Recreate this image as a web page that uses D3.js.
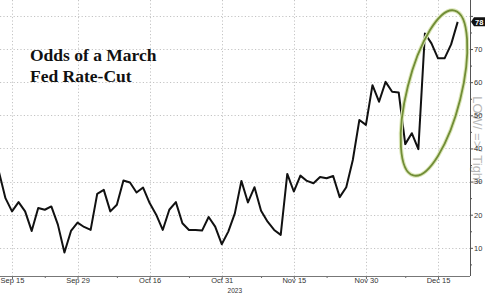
<!DOCTYPE html>
<html><head><meta charset="utf-8">
<script src="https://cdn.jsdelivr.net/npm/d3@7/dist/d3.min.js"></script>
<style>body{margin:0;background:#fff;}svg{display:block;}</style>
</head><body>
<script>
// ---- data ----
const startDate = "2023-09-13";
const values = [33.0,25.0,21.0,23.8,21.0,15.1,22.0,21.5,22.5,17.0,
  8.6,15.1,17.6,16.3,15.4,26.3,27.5,21.0,23.0,30.3,
  29.7,26.7,28.2,23.5,20.0,15.4,21.5,23.8,17.4,15.4,
  15.4,15.2,19.3,16.4,11.1,14.9,20.4,30.2,23.7,28.3,
  21.2,17.9,15.4,13.9,32.3,27.0,31.8,30.2,29.5,31.4,
  31.0,31.7,25.3,28.3,36.5,48.6,47.1,59.1,54.1,60.1,
  57.1,56.9,41.3,44.6,39.8,74.7,71.7,67.2,67.2,71.4,78.2];
const tickDates = ["2023-09-15","2023-09-29","2023-10-16","2023-10-31","2023-11-15","2023-11-30","2023-12-15"];
const tickLabels = ["Sep 15","Sep 29","Oct 16","Oct 31","Nov 15","Nov 30","Dec 15"];
const minorTickDates = ["2023-09-22","2023-10-09","2023-10-24","2023-11-08","2023-11-22","2023-12-08"];
const yTicks = [10,20,30,40,50,60,70,80];
const yTickLabels = ["10","20","30","40","50","60","70",""];
const yMinorTicks = [5,15,25,35,45,55,65,75];
const yearLabel = "2023";
const titleLines = ["Odds of a March","Fed Rate-Cut"];
const lastLabel = "78";
const sideText = "LOW/ =>/ Tight";

// business-day calendar
const fmt = d3.utcFormat("%Y-%m-%d");
const days = d3.utcDay.range(new Date(startDate+"T00:00:00Z"), new Date("2023-12-27T00:00:00Z"))
  .filter(d => d.getUTCDay() !== 0 && d.getUTCDay() !== 6).map(fmt);
const idx = s => days.indexOf(s);

const W = 485, H = 293;
const svg = d3.select("body").append("svg").attr("width", W).attr("height", H);

const x = d3.scaleLinear().domain([0, 72]).range([-1.1, -1.1 + 72*6.554]);
const y = d3.scaleLinear().domain([1.5, 84.8]).range([276, 0]);
const plotR = 470, plotB = 276;

// grid
const grid = svg.append("g").attr("stroke", "#c4c4c4").attr("stroke-width", 1).attr("stroke-dasharray", "1.2,2.2");
grid.selectAll("line.h").data(yTicks).join("line").attr("class","h")
  .attr("x1", 0).attr("x2", plotR).attr("y1", d => Math.round(y(d))+0.5).attr("y2", d => Math.round(y(d))+0.5);
grid.selectAll("line.v").data(tickDates).join("line").attr("class","v")
  .attr("x1", d => Math.round(x(idx(d)))+0.5).attr("x2", d => Math.round(x(idx(d)))+0.5)
  .attr("y1", 0).attr("y2", plotB);

// side watermark text
svg.append("text").attr("transform", `translate(473,140) rotate(90)`)
  .attr("text-anchor","middle").attr("font-family","Liberation Sans, Arial, sans-serif")
  .attr("font-size", 13).attr("fill", "#b8b8b8").text(sideText);

// axes
const xAxis = d3.axisBottom(x).tickValues(tickDates.map(idx))
  .tickFormat((d,i) => tickLabels[i]).tickSize(3).tickPadding(-1);
const gx = svg.append("g").attr("transform", `translate(0,${plotB})`).call(xAxis);
gx.select(".domain").remove();
gx.selectAll("text").attr("font-family","Liberation Sans, Arial, sans-serif").attr("font-size", 7.5).attr("fill","#333");
gx.selectAll("line").attr("stroke","#666");
const xMinor = d3.axisBottom(x).tickValues(minorTickDates.map(idx)).tickFormat("").tickSize(2);
const gxm = svg.append("g").attr("transform", `translate(0,${plotB})`).call(xMinor);
gxm.select(".domain").remove();
gxm.selectAll("line").attr("stroke","#666");

svg.append("line").attr("x1",0).attr("x2",plotR).attr("y1",plotB+0.5).attr("y2",plotB+0.5).attr("stroke","#777");
svg.append("line").attr("x1",plotR+0.5).attr("x2",plotR+0.5).attr("y1",0).attr("y2",plotB).attr("stroke","#555");

const yAxis = d3.axisRight(y).tickValues(yTicks).tickSize(3).tickPadding(1).tickFormat((d,i) => yTickLabels[i]);
const gy = svg.append("g").attr("transform", `translate(${plotR},0)`).call(yAxis);
gy.select(".domain").remove();
gy.selectAll("text").attr("font-family","Liberation Sans, Arial, sans-serif").attr("font-size", 7.5).attr("fill","#333");
gy.selectAll("line").attr("stroke","#555");
const yMinor = d3.axisRight(y).tickValues(yMinorTicks).tickSize(2).tickFormat("");
const gym = svg.append("g").attr("transform", `translate(${plotR},0)`).call(yMinor);
gym.select(".domain").remove();
gym.selectAll("line").attr("stroke","#555");

svg.append("text").attr("x", x(idx("2023-11-02"))).attr("y", 292.5).attr("text-anchor","middle")
  .attr("font-family","Liberation Sans, Arial, sans-serif").attr("font-size", 6.5).attr("fill","#333").text(yearLabel);

// line
const line = d3.line().x((d,i) => x(i)).y(d => y(d));
svg.append("path").datum(values).attr("d", line).attr("fill","none")
  .attr("stroke","#111").attr("stroke-width", 2).attr("stroke-linejoin","round");

// last value marker
const lv = values[values.length-1];
const ly = y(lv);
svg.append("path").attr("d", `M${plotR+1},${ly} L${plotR+4},${ly-4.5} L${W},${ly-4.5} L${W},${ly+4.5} L${plotR+4},${ly+4.5} Z`).attr("fill","#111");
svg.append("text").attr("x", plotR+5).attr("y", ly+2.7).attr("font-family","Liberation Sans, Arial, sans-serif")
  .attr("font-size", 7.5).attr("font-weight","bold").attr("fill","#fff").text(lastLabel);

// highlight ellipse
const ell = svg.append("g").attr("transform", "translate(434,93) rotate(14)");
ell.append("ellipse").attr("rx", 27).attr("ry", 85).attr("fill","none").attr("stroke","#dbe6b8").attr("stroke-width", 4);
ell.append("ellipse").attr("rx", 27).attr("ry", 85).attr("fill","none").attr("stroke","#718d36").attr("stroke-width", 1.8);

// title
const t = svg.append("text").attr("font-family","Liberation Serif, 'Times New Roman', serif")
  .attr("font-weight","bold").attr("font-size", 17.5).attr("fill","#111");
titleLines.forEach((s,i) => t.append("tspan").attr("x", 30).attr("y", 61 + i*21).text(s));
</script>
</body></html>
